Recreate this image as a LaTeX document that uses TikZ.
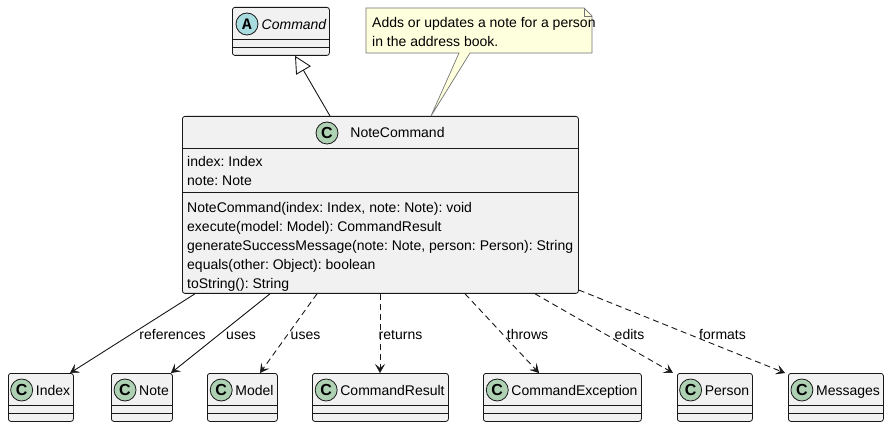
\documentclass[tikz,border=0pt]{standalone}
\usepackage{fontspec}
\setmainfont{Liberation Sans}
\newfontfamily\monofam{Liberation Mono}
\usetikzlibrary{arrows.meta,calc}
\frenchspacing
\definecolor{ink}{HTML}{181818}
\definecolor{clsfill}{HTML}{F1F1F1}
\definecolor{circC}{HTML}{ADD1B2}
\definecolor{circA}{HTML}{A9DCDF}
\definecolor{notefill}{HTML}{FEFFDD}
\tikzset{
  clsbox/.style={draw=ink, fill=clsfill, line width=0.8pt, rounded corners=2.5pt, inner sep=0pt},
  divline/.style={draw=ink, line width=0.8pt},
  lbl/.style={inner sep=0pt, anchor=base, text=black},
  lblw/.style={inner sep=0pt, anchor=base west, text=black},
  cicon/.style={circle, draw=ink, line width=0.8pt, fill=circC, minimum size=22pt, inner sep=0pt, font=\bfseries\fontsize{16}{16}\selectfont},
  aicon/.style={circle, draw=ink, line width=0.8pt, fill=circA, minimum size=22pt, inner sep=0pt, font=\monofam\bfseries\fontsize{16}{16}\selectfont},
  assoc/.style={draw=ink, line width=0.9pt, -{Stealth[length=9pt,width=10pt,inset=4pt,line width=0.5pt]}},
  dep/.style={assoc, dash pattern=on 6pt off 4pt},
  genl/.style={draw=ink, line width=0.9pt, -{Triangle[open, length=17pt, width=17pt, fill=white, line width=0.9pt]}},
  notestyle/.style={draw=ink!60, line width=0.7pt, fill=notefill, line join=miter},
}
\newcommand\smallcls[4]{%
  \node[clsbox, minimum width={#3-#2}, minimum height=48, anchor=north west] (#1) at (#2,373) {};
  \draw[divline] ($(#1.north west)+(0,32)$) -- ($(#1.north east)+(0,32)$);
  \draw[divline] ($(#1.north west)+(0,40)$) -- ($(#1.north east)+(0,40)$);
  \node[lbl] (#1-name) at ({(#2+#3)/2+12.5},395) {#4};
  \node[cicon] (#1-icon) at ($(#1-name.base west)+(-14,-5)$) {C};
}
\begin{document}
\begin{tikzpicture}[x=1pt, y=-1pt, font=\fontsize{14}{16}\selectfont]
\useasboundingbox (0,0) rectangle (888,427);
\fill[white] (0,0) rectangle (888,427);

% abstract Command
\node[clsbox, minimum width=97, minimum height=48, anchor=north west] (cmd) at (232,7) {};
\draw[divline] ($(cmd.north west)+(0,32)$) -- ($(cmd.north east)+(0,32)$);
\draw[divline] ($(cmd.north west)+(0,40)$) -- ($(cmd.north east)+(0,40)$);
\node[lbl, font=\itshape\fontsize{14}{16}\selectfont] (cmd-name) at (294,30) {Command};
\node[aicon] (cmd-icon) at (247,24) {A};

% NoteCommand
\node[clsbox, minimum width=396, minimum height=177, anchor=north west] (nc) at (182,116) {};
\draw[divline] ($(nc.north west)+(0,32)$) -- ($(nc.north east)+(0,32)$);
\draw[divline] ($(nc.north west)+(0,76)$) -- ($(nc.north east)+(0,76)$);
\node[lbl] (nc-name) at (397.5,138) {NoteCommand};
\node[cicon] (nc-icon) at (327,133) {C};
\node[lblw] (nc-a1) at (187,167) {index: Index};
\node[lblw] (nc-a2) at (187,186) {note: Note};
\node[lblw] (nc-m1) at (187,213) {NoteCommand(index: Index, note: Note): void};
\node[lblw] (nc-m2) at (187,232) {execute(model: Model): CommandResult};
\node[lblw] (nc-m3) at (187,251) {generateSuccessMessage(note: Note, person: Person): String};
\node[lblw] (nc-m4) at (187,270) {equals(other: Object): boolean};
\node[lblw] (nc-m5) at (187,288.5) {toString(): String};

% note
\draw[notestyle] (366,8) -- (584,8) -- (592,16) -- (592,53) -- (470,53) -- (nc.north -| 431,0) -- (459,53) -- (366,53) -- cycle;
\draw[notestyle, fill=none] (584,8) -- (584,16) -- (592,16);
\node[lblw] (note-l1) at (372,28) {Adds or updates a note for a person};
\node[lblw] (note-l2) at (372,46.5) {in the address book.};

% bottom classes
\smallcls{cIndex}{8}{73}{Index}
\smallcls{cNote}{111}{172}{Note}
\smallcls{cModel}{207}{277}{Model}
\smallcls{cResult}{312}{448}{CommandResult}
\smallcls{cExc}{483}{641}{CommandException}
\smallcls{cPerson}{677}{752}{Person}
\smallcls{cMsg}{788}{883}{Messages}

% generalization
\draw[genl] (nc.north -| 330,0) -- (cmd.south -| 295,0);

% relations
\draw[assoc] (nc.south -| 195,0) -- (cIndex.north -| 70,0);
\draw[assoc] (nc.south -| 270,0) -- (cNote.north -| 171,0);
\draw[dep] (nc.south -| 317,0) -- (cModel.north -| 260,0);
\draw[dep] (nc.south -| 380,0) -- (cResult.north -| 380,0);
\draw[dep] (nc.south -| 465,0) -- (cExc.north -| 539,0);
\draw[dep] (nc.south -| 535,0) -- (cPerson.north -| 673,0);
\draw[dep] (nc.east |- 0,290) -- (cMsg.north -| 785,0);

% edge labels
\node[lbl] (l-ref) at (172.5,339) {references};
\node[lbl] (l-uses1) at (241,339) {uses};
\node[lbl] (l-uses2) at (305.5,339) {uses};
\node[lbl] (l-ret) at (400.5,339) {returns};
\node[lbl] (l-thr) at (527.5,339) {throws};
\node[lbl] (l-edit) at (629.5,339) {edits};
\node[lbl] (l-fmt) at (722.5,339) {formats};
\end{tikzpicture}
\end{document}
